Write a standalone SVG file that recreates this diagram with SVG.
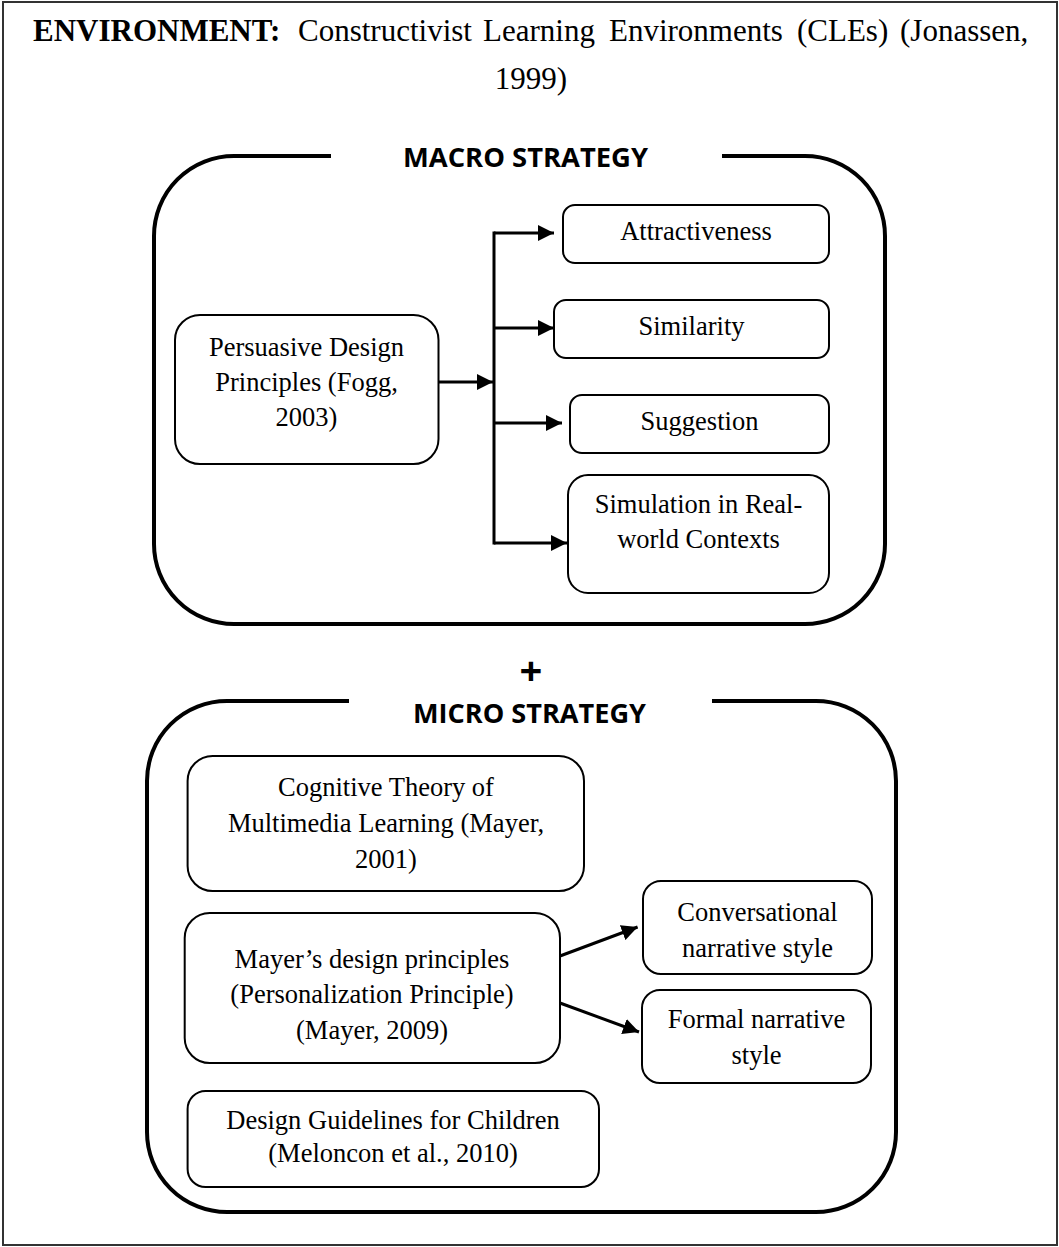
<svg xmlns="http://www.w3.org/2000/svg" width="1059" height="1247" viewBox="0 0 1059 1247">
<style>
.t{font-family:"Liberation Serif","Times New Roman",serif;font-size:26.5px;text-anchor:middle;fill:#000}
.ti{font-family:"Liberation Serif","Times New Roman",serif;font-size:31px;fill:#000}
.h{font-family:"Open Sans","Liberation Sans",sans-serif;font-weight:bold;font-size:26px;text-anchor:middle;fill:#000}
.plus{font-family:"Open Sans","Liberation Sans",sans-serif;font-weight:bold;font-size:40px;text-anchor:middle;fill:#000}
.box{fill:#fff;stroke:#000;stroke-width:2}
.frame{fill:none;stroke:#000;stroke-width:4}
.c{fill:none;stroke:#000;stroke-width:3}
</style>
<defs>
<marker id="ah" markerUnits="userSpaceOnUse" markerWidth="16" markerHeight="16" refX="16" refY="8" orient="auto">
<path d="M0,0 L16,8 L0,16 z" fill="#000"/>
</marker>
</defs>
<rect x="0" y="0" width="1059" height="1247" fill="#fff"/>
<rect x="3" y="2" width="1054" height="1243" fill="none" stroke="#333" stroke-width="2"/>

<g id="title">
<text class="ti" y="41"><tspan x="33" font-weight="bold">ENVIRONMENT:</tspan><tspan x="298">Constructivist</tspan><tspan x="483">Learning</tspan><tspan x="609">Environments</tspan><tspan x="797">(CLEs)</tspan><tspan x="900">(Jonassen,</tspan></text>
<text class="ti" x="531" y="89" text-anchor="middle">1999)</text>
</g>

<g id="macro">
<path class="frame" d="M331,156 L234,156 A80,80 0 0 0 154,236 L154,544 A80,80 0 0 0 234,624 L805,624 A80,80 0 0 0 885,544 L885,236 A80,80 0 0 0 805,156 L722,156"/>
<text class="h" x="525.5" y="167" textLength="245" lengthAdjust="spacingAndGlyphs">MACRO STRATEGY</text>
</g>

<g id="persuasive">
<rect class="box" x="175" y="315" width="263.5" height="149" rx="25"/>
<text class="t" x="306.5" y="356">Persuasive Design</text>
<text class="t" x="306.5" y="391">Principles (Fogg,</text>
<text class="t" x="306.5" y="426">2003)</text>
</g>
<g id="attractiveness">
<rect class="box" x="563" y="205" width="266" height="58" rx="12"/>
<text class="t" x="696" y="240">Attractiveness</text>
</g>
<g id="similarity">
<rect class="box" x="554" y="300" width="275" height="58" rx="12"/>
<text class="t" x="691.5" y="335">Similarity</text>
</g>
<g id="suggestion">
<rect class="box" x="570" y="395" width="259" height="58" rx="12"/>
<text class="t" x="699.5" y="430">Suggestion</text>
</g>
<g id="simulation">
<rect class="box" x="568" y="475" width="261" height="118" rx="20"/>
<text class="t" x="698.5" y="513">Simulation in Real-</text>
<text class="t" x="698.5" y="548">world Contexts</text>
</g>

<g id="plus">
<text class="plus" x="531" y="685">+</text>
</g>

<g id="micro">
<path class="frame" d="M349,701 L227,701 A80,80 0 0 0 147,781 L147,1132 A80,80 0 0 0 227,1212 L816,1212 A80,80 0 0 0 896,1132 L896,781 A80,80 0 0 0 816,701 L712,701"/>
<text class="h" x="529.5" y="723" textLength="233" lengthAdjust="spacingAndGlyphs">MICRO STRATEGY</text>
</g>

<g id="cognitive">
<rect class="box" x="187.6" y="756" width="396.4" height="135" rx="25"/>
<text class="t" x="386" y="796">Cognitive Theory of</text>
<text class="t" x="386" y="832">Multimedia Learning (Mayer,</text>
<text class="t" x="386" y="867.5">2001)</text>
</g>
<g id="mayer">
<rect class="box" x="184.7" y="913" width="375.3" height="150" rx="25"/>
<text class="t" x="372" y="968">Mayer’s design principles</text>
<text class="t" x="372" y="1003">(Personalization Principle)</text>
<text class="t" x="372" y="1039">(Mayer, 2009)</text>
</g>
<g id="conversational">
<rect class="box" x="643" y="881" width="229" height="93" rx="18"/>
<text class="t" x="757.5" y="921">Conversational</text>
<text class="t" x="757.5" y="957">narrative style</text>
</g>
<g id="formal">
<rect class="box" x="642" y="990" width="229" height="93" rx="18"/>
<text class="t" x="756.5" y="1028">Formal narrative</text>
<text class="t" x="756.5" y="1063.5">style</text>
</g>
<g id="guidelines">
<rect class="box" x="187.6" y="1091" width="411.4" height="96" rx="18"/>
<text class="t" x="393" y="1129">Design Guidelines for Children</text>
<text class="t" x="393" y="1162">(Meloncon et al., 2010)</text>
</g>

<g id="connectors">
<line class="c" x1="438.5" y1="382" x2="493" y2="382" marker-end="url(#ah)"/>
<line class="c" x1="494" y1="231.5" x2="494" y2="544.5"/>
<line class="c" x1="494" y1="233" x2="554" y2="233" marker-end="url(#ah)"/>
<line class="c" x1="494" y1="328" x2="554" y2="328" marker-end="url(#ah)"/>
<line class="c" x1="494" y1="423" x2="562" y2="423" marker-end="url(#ah)"/>
<line class="c" x1="494" y1="543" x2="567" y2="543" marker-end="url(#ah)"/>
<line class="c" x1="560" y1="956" x2="637.6" y2="927" marker-end="url(#ah)"/>
<line class="c" x1="560" y1="1003" x2="639" y2="1032" marker-end="url(#ah)"/>
</g>
</svg>
